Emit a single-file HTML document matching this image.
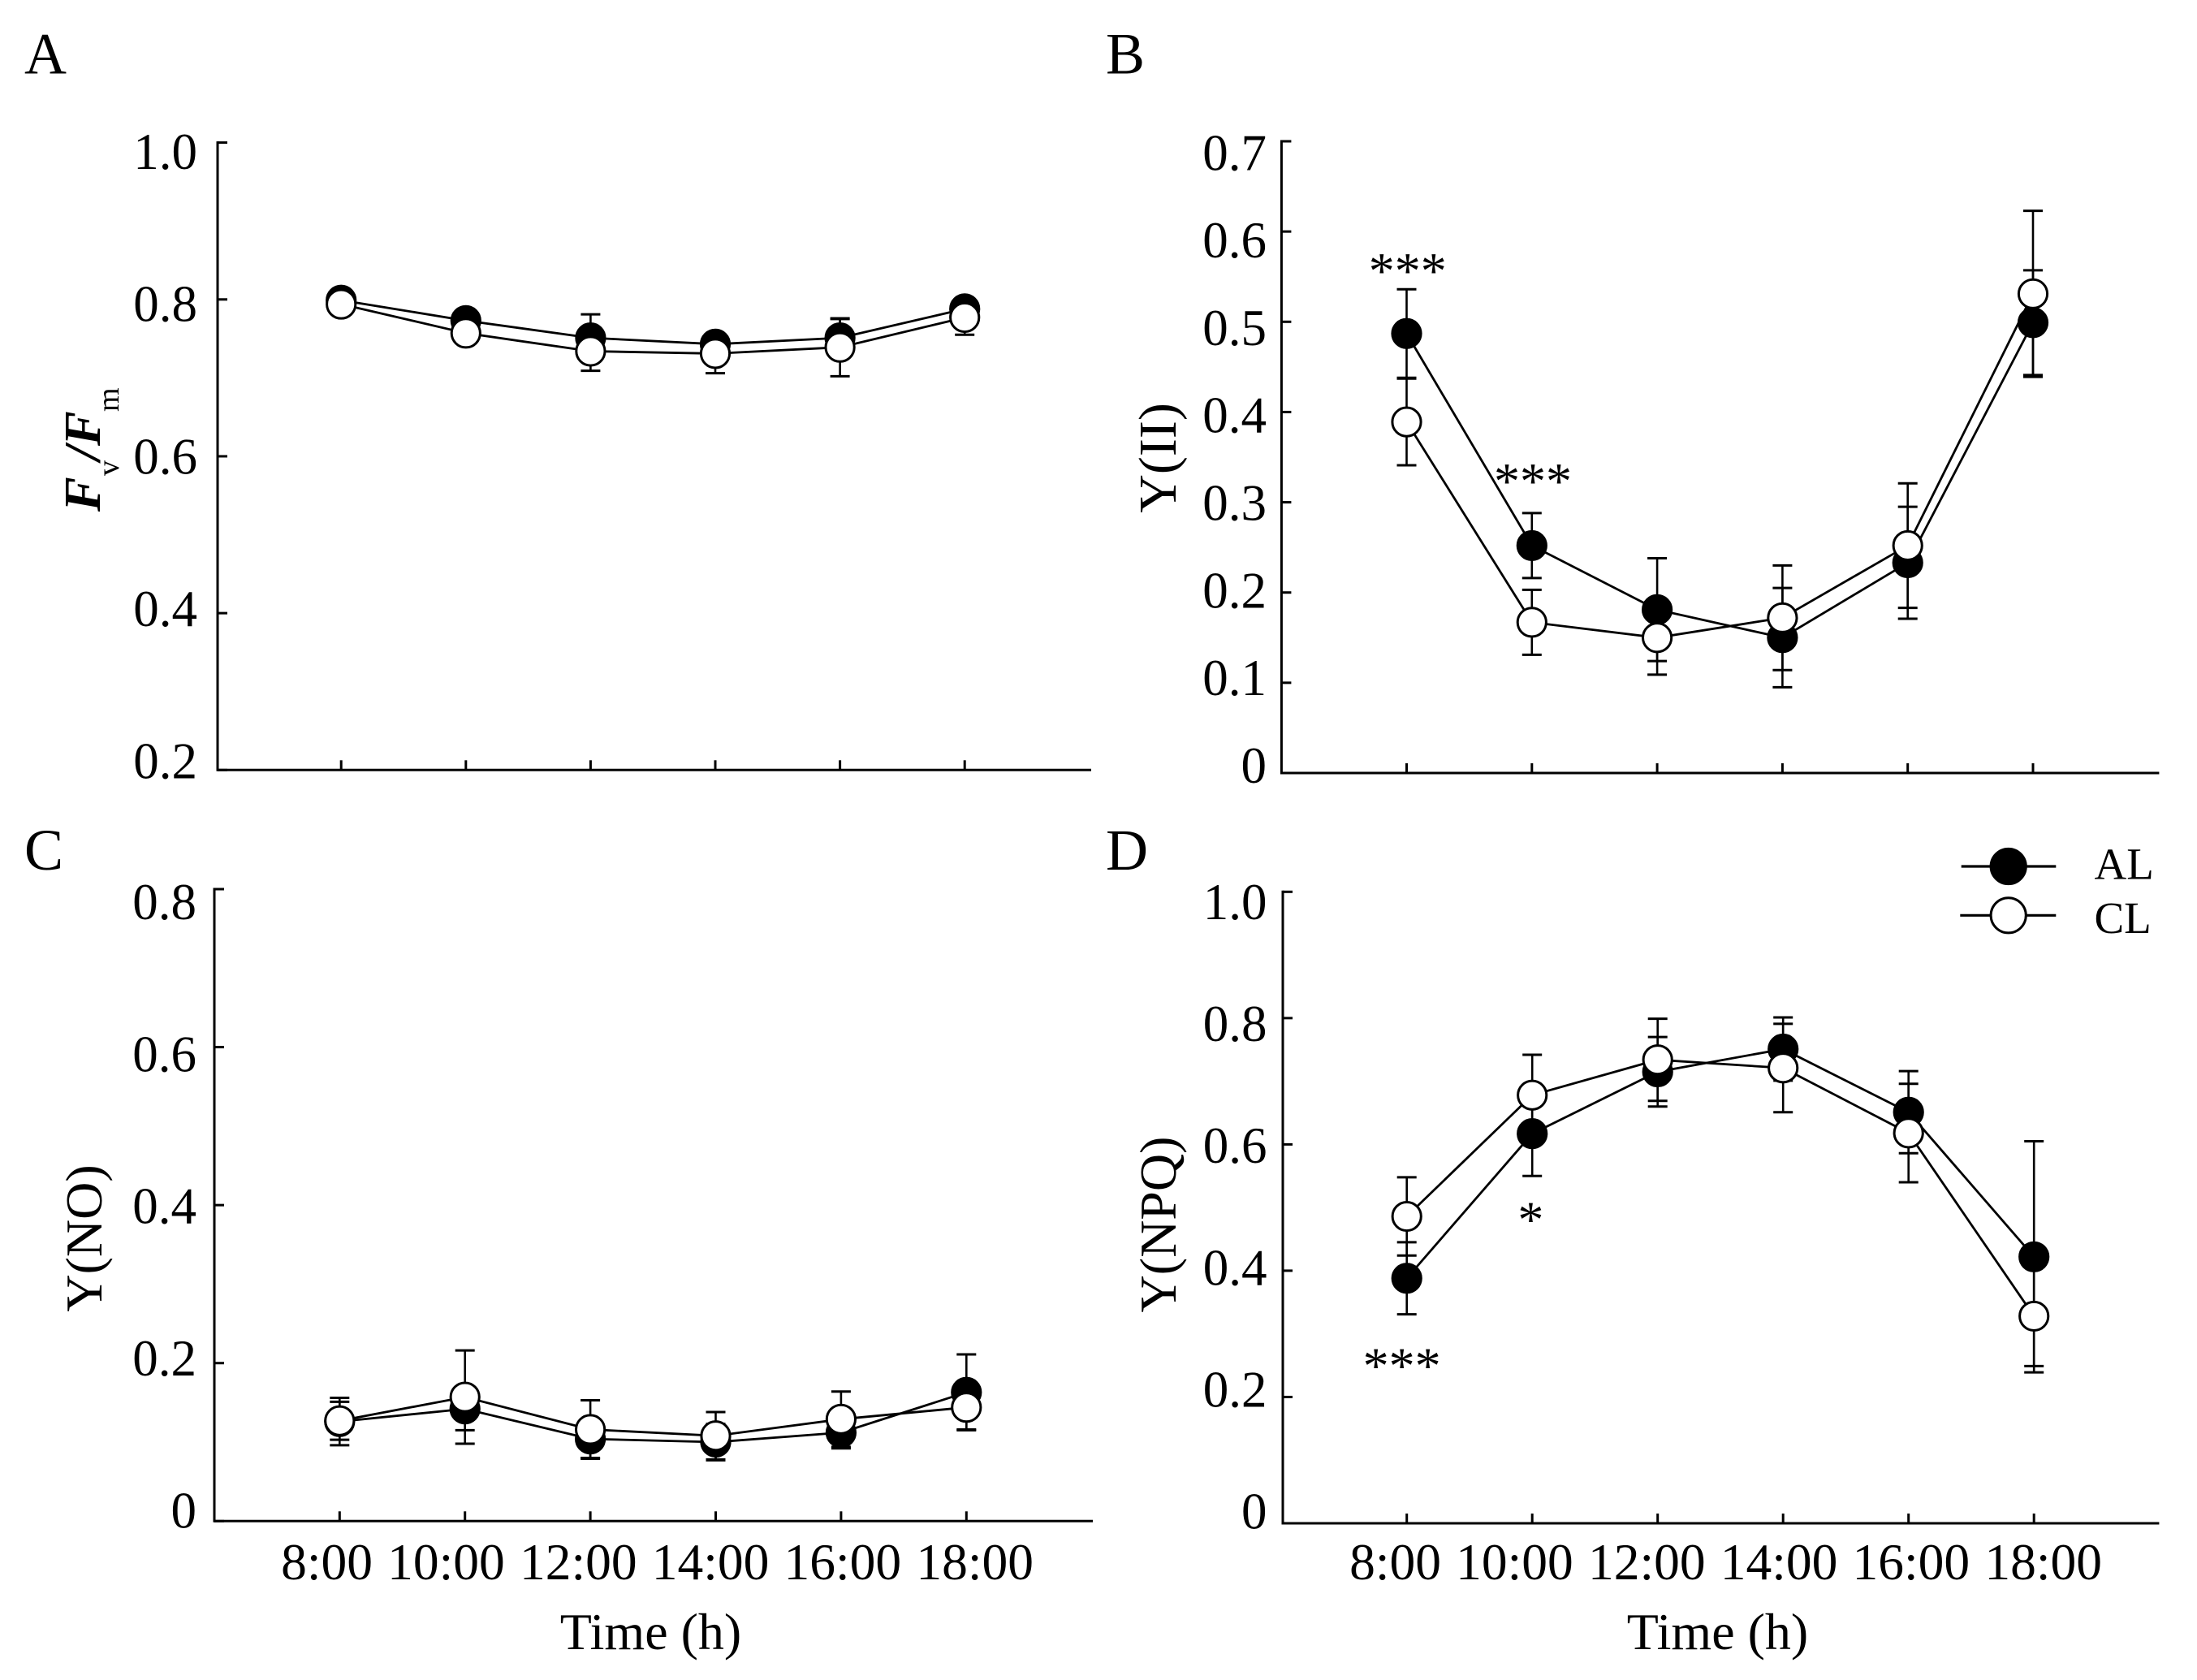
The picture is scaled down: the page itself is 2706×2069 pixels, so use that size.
<!DOCTYPE html>
<html lang="en">
<head>
<meta charset="utf-8">
<title>Chlorophyll fluorescence parameters AL vs CL</title>
<style>
html,body{margin:0;padding:0;background:#fff;}
svg{display:block;}
text{font-family:"Liberation Serif","Times New Roman",serif;fill:#000;}
</style>
</head>
<body>
<svg id="chart" xmlns="http://www.w3.org/2000/svg" width="2706" height="2069" viewBox="0 0 2706 2069"></svg>
<script>
// ---- shared categories ----
const timeLabels = ["8:00", "10:00", "12:00", "14:00", "16:00", "18:00"];

// ---- panel A: Fv/Fm ----
const aTicks = [0.2, 0.4, 0.6, 0.8, 1.0];
const aTickLabels = ["0.2", "0.4", "0.6", "0.8", "1.0"];
const aAL = [0.799, 0.773, 0.751, 0.743, 0.751, 0.788];
const aALerr = [0.012, 0.010, 0.030, 0.012, 0.024, 0.012];
const aCL = [0.794, 0.757, 0.734, 0.731, 0.739, 0.777];
const aCLerr = [0.008, 0.012, 0.025, 0.025, 0.037, 0.022];

// ---- panel B: Y(II) ----
const bTicks = [0, 0.1, 0.2, 0.3, 0.4, 0.5, 0.6, 0.7];
const bTickLabels = ["0", "0.1", "0.2", "0.3", "0.4", "0.5", "0.6", "0.7"];
const bAL = [0.487, 0.252, 0.181, 0.150, 0.233, 0.499];
const bALerr = [0.049, 0.036, 0.057, 0.055, 0.062, 0.058];
const bCL = [0.389, 0.167, 0.150, 0.172, 0.252, 0.531];
const bCLerr = [0.048, 0.036, 0.041, 0.058, 0.069, 0.092];

// ---- panel C: Y(NO) ----
const cTicks = [0, 0.2, 0.4, 0.6, 0.8];
const cTickLabels = ["0", "0.2", "0.4", "0.6", "0.8"];
const cAL = [0.126, 0.142, 0.104, 0.100, 0.112, 0.163];
const cALerr = [0.030, 0.027, 0.024, 0.023, 0.020, 0.048];
const cCL = [0.127, 0.157, 0.116, 0.108, 0.129, 0.144];
const cCLerr = [0.024, 0.059, 0.037, 0.030, 0.035, 0.028];

// ---- panel D: Y(NPQ) ----
const dTicks = [0, 0.2, 0.4, 0.6, 0.8, 1.0];
const dTickLabels = ["0", "0.2", "0.4", "0.6", "0.8", "1.0"];
const dAL = [0.388, 0.617, 0.715, 0.751, 0.651, 0.422];
const dALerr = [0.057, 0.067, 0.055, 0.050, 0.065, 0.183];
const dCL = [0.486, 0.678, 0.734, 0.721, 0.618, 0.328];
const dCLerr = [0.062, 0.064, 0.065, 0.070, 0.078, 0.079];

const svg = document.getElementById('chart');
const NS = 'http://www.w3.org/2000/svg';

function el(tag, attrs, parent) {
  const e = document.createElementNS(NS, tag);
  for (const k in attrs) e.setAttribute(k, attrs[k]);
  (parent || svg).appendChild(e);
  return e;
}
function label(parent, x, y, str, size, anchor) {
  const t = el('text', {x: x, y: y, 'font-size': size, 'text-anchor': anchor || 'start'}, parent);
  t.textContent = str;
  return t;
}

function drawPanel(p) {
  const g = el('g', {}, svg);
  
  

  const vMin = p.ticks[0];
  const vMax = p.ticks[p.ticks.length - 1];
  const yScale = v => p.yBottom + (v - vMin) / (vMax - vMin) * (p.yTop - p.yBottom);
  const yLabelScale = v => p.labelBottom + (v - vMin) / (vMax - vMin) * (p.labelTop - p.labelBottom);
  const xScale = i => p.xFirst + i * p.xStep;

  // panel letter
  const letter = label(g, p.letterX, p.letterY, p.id, 72);
  
  

  // axes
  const axisG = el('g', {stroke: '#000', 'stroke-width': 3, fill: 'none'}, g);
  
  
  el('line', {x1: p.xAxis, x2: p.xAxis, y1: p.yTop - 1.5, y2: p.yBottom + 1.5}, axisG);
  el('line', {x1: p.xAxis, x2: p.xEnd, y1: p.yBottom, y2: p.yBottom}, axisG);
  p.ticks.forEach(v => {
    el('line', {x1: p.xAxis, x2: p.xAxis + 12, y1: yScale(v), y2: yScale(v)}, axisG);
  });
  timeLabels.forEach((_, i) => {
    el('line', {x1: xScale(i), x2: xScale(i), y1: p.yBottom, y2: p.yBottom - 12}, axisG);
  });

  // y tick labels
  p.ticks.forEach((v, i) => {
    const t = label(g, p.labelRight, yLabelScale(v), p.tickLabels[i], 63, 'end');
    
    
  });

  // x tick labels and title
  if (p.showX) {
    timeLabels.forEach((s, i) => {
      const t = label(g, p.timeRight + i * 162.8, 1945, s, 63.5, 'end');
      
      
    });
    const xt = label(g, p.xTitleX, 2031, 'Time (h)', 64, 'middle');
    
    
  }

  // series
  const series = [
    {name: 'al', vals: p.al, errs: p.alErr, fill: '#000'},
    {name: 'cl', vals: p.cl, errs: p.clErr, fill: '#fff'}
  ];
  series.forEach(s => {
    const eg = el('g', {stroke: '#000', 'stroke-width': 2.6, fill: 'none'}, g);
    
    
    s.vals.forEach((v, i) => {
      const x = xScale(i);
      const hi = yScale(v + s.errs[i]);
      const lo = yScale(v - s.errs[i]);
      el('line', {x1: x, x2: x, y1: hi, y2: lo}, eg);
      el('line', {x1: x - 12, x2: x + 12, y1: hi, y2: hi, 'stroke-width': 3}, eg);
      el('line', {x1: x - 12, x2: x + 12, y1: lo, y2: lo, 'stroke-width': 3}, eg);
    });
  });
  series.forEach(s => {
    const pts = s.vals.map((v, i) => xScale(i) + ',' + yScale(v)).join(' ');
    const line = el('polyline', {points: pts, fill: 'none', stroke: '#000', 'stroke-width': 2.8}, g);
    
    
  });
  series.forEach(s => {
    s.vals.forEach((v, i) => {
      const c = el('circle', {cx: xScale(i), cy: yScale(v), r: 17.6, fill: s.fill, stroke: '#000', 'stroke-width': 3}, g);
      
      
    });
  });
  return g;
}

drawPanel({id: 'A', ticks: aTicks, tickLabels: aTickLabels, al: aAL, alErr: aALerr, cl: aCL, clErr: aCLerr,
  xAxis: 268, xEnd: 1344, yTop: 175.6, yBottom: 948.3, xFirst: 420.2, xStep: 153.6,
  labelRight: 243, labelTop: 208, labelBottom: 958.5, letterX: 30, letterY: 90.5, showX: false});
drawPanel({id: 'B', ticks: bTicks, tickLabels: bTickLabels, al: bAL, alErr: bALerr, cl: bCL, clErr: bCLerr,
  xAxis: 1578.4, xEnd: 2659.4, yTop: 174, yBottom: 952, xFirst: 1732.5, xStep: 154.3,
  labelRight: 1560, labelTop: 209.3, labelBottom: 964, letterX: 1362, letterY: 90.5, showX: false});
drawPanel({id: 'C', ticks: cTicks, tickLabels: cTickLabels, al: cAL, alErr: cALerr, cl: cCL, clErr: cCLerr,
  xAxis: 264, xEnd: 1346, yTop: 1095, yBottom: 1873.3, xFirst: 418.3, xStep: 154.4,
  labelRight: 242, labelTop: 1132, labelBottom: 1881.3, letterX: 30, letterY: 1071, showX: true,
  timeRight: 459, xTitleX: 801.5});
drawPanel({id: 'D', ticks: dTicks, tickLabels: dTickLabels, al: dAL, alErr: dALerr, cl: dCL, clErr: dCLerr,
  xAxis: 1580, xEnd: 2659.4, yTop: 1098.3, yBottom: 1876, xFirst: 1732.7, xStep: 154.5,
  labelRight: 1560.5, labelTop: 1132, labelBottom: 1882.6, letterX: 1362, letterY: 1071, showX: true,
  timeRight: 1775, xTitleX: 2115.5});

// y-axis titles
function rotatedTitle(x, y, str, name, size) {
  const t = el('text', {transform: 'translate(' + x + ',' + y + ') rotate(-90)', 'font-size': size, 'text-anchor': 'middle'});
  t.textContent = str;
  
  
}
rotatedTitle(1448, 564, 'Y(II)', 'y-axis-title-b', 66);
rotatedTitle(125, 1525, 'Y(NO)', 'y-axis-title-c', 64);
rotatedTitle(1448, 1508, 'Y(NPQ)', 'y-axis-title-d', 64);

// Fv/Fm title
const fvfm = el('text', {transform: 'translate(123,630) rotate(-90)', 'font-size': 64});


const fvfmParts = [
  ['F', {x: 0, 'font-weight': 'bold', 'font-style': 'italic'}],
  ['v', {x: 44, 'font-size': 38, dy: 23}],
  ['/', {x: 63, 'font-weight': 'bold', 'font-style': 'italic', dy: -23}],
  ['F', {x: 81, 'font-weight': 'bold', 'font-style': 'italic'}],
  ['m', {x: 123, 'font-size': 38, dy: 23}]
];
fvfmParts.forEach(part => {
  const ts = el('tspan', part[1], fvfm);
  ts.textContent = part[0];
});

// significance stars
function stars(x, y, str) {
  const t = label(svg, x, y, str, 64, 'middle');
  
  
}
stars(1733.7, 355, '***');
stars(1888, 614, '***');
stars(1885.4, 1523.5, '*');
stars(1726.6, 1703.5, '***');

// legend
const legend = el('g', {});


const legendAL = el('g', {}, legend);


el('line', {x1: 2415.7, x2: 2532.3, y1: 1067, y2: 1067, stroke: '#000', 'stroke-width': 3.2}, legendAL);
el('circle', {cx: 2473.7, cy: 1067, r: 21.6, fill: '#000', stroke: '#000', 'stroke-width': 3}, legendAL);
label(legendAL, 2579.5, 1082.3, 'AL', 55);
const legendCL = el('g', {}, legend);


el('line', {x1: 2414.3, x2: 2532.3, y1: 1127.3, y2: 1127.3, stroke: '#000', 'stroke-width': 3.2}, legendCL);
el('circle', {cx: 2473.7, cy: 1127.3, r: 21.6, fill: '#fff', stroke: '#000', 'stroke-width': 3}, legendCL);
label(legendCL, 2579.5, 1149, 'CL', 55);
</script>
</body>
</html>
